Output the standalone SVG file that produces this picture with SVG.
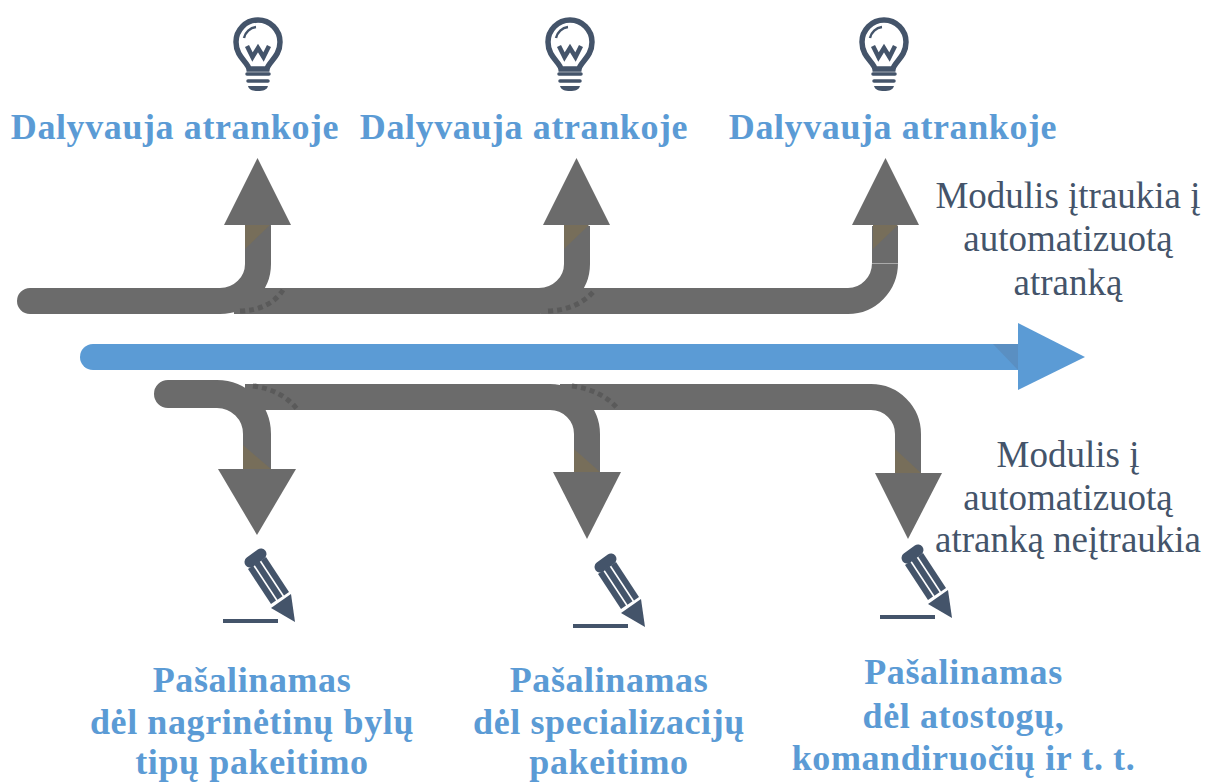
<svg xmlns="http://www.w3.org/2000/svg" xmlns:xlink="http://www.w3.org/1999/xlink" width="1208" height="782" viewBox="0 0 1208 782">
<style>
.g{fill:#6b6b6b}
.gl{fill:none;stroke:#6b6b6b;stroke-width:26}
.tan{fill:#776e5a}
.d{fill:none;stroke:#5a5a5a;stroke-width:5;stroke-dasharray:5 4}
.b{font:bold 36px "Liberation Serif",serif;fill:#5b9bd5;text-anchor:middle;letter-spacing:.6px}
.t{font:37px "Liberation Serif",serif;fill:#44546a;text-anchor:middle}
</style>
<defs>
<g id="bulb">
<path d="M-9 27C-10 20-22 15-22 0A22 22 0 1 1 22 0C22 15 10 20 9 27Z" fill="none" stroke="#44546a" stroke-width="5.500"/>
<path d="M-14 -4A14 14 0 0 1 -2 -15" fill="none" stroke="#44546a" stroke-width="2.500"/>
<path d="M-11 4L-5.500 15L0 6L5.500 15L11 4" fill="none" stroke="#44546a" stroke-width="4.500"/>
<path d="M-11 32H11M-10 39H10" fill="none" stroke="#44546a" stroke-width="3.500" stroke-linecap="round"/>
<path d="M-10 44H10C9 48 5 49 0 49C-5 49-9 48-10 44Z" fill="#44546a"/>
</g>
<g id="pencil" fill="#44546a">
<path d="M-24 -36L-13 -44" stroke="#44546a" stroke-width="11" stroke-linecap="round" transform="translate(0,-3)"/>
<path d="M-26 -32L-21 -35.400L2 -0.400L-3 3Z"/>
<path d="M-19.500 -36.300L-14.500 -39.700L8.500 -4.700L3.500 -1.300Z"/>
<path d="M-13 -40.600L-8 -44L15 -9L10 -5.600Z"/>
<path d="M-3 7L17 -7L21 21Z"/>
<rect x="-51" y="18" width="55" height="4"/>
</g>
</defs>
<g id="connectors">
<g id="upper">
<path class="gl" d="M30 301H220A38 37 0 0 0 258 264V226" stroke-linecap="round"/>
<path class="gl" d="M234 301H539A38 37 0 0 0 577 264V226"/>
<path class="gl" d="M541 301H848A37 38 0 0 0 885 263V226"/>
<path class="d" d="M240 311Q270 310 283 290"/>
<path class="d" d="M548 311Q578 310 595 290"/>
<path class="g" d="M224 225L257.500 158L291 225Z"/>
<path class="g" d="M543 225L576.500 158L610 225Z"/>
<path class="g" d="M852 225L885.500 158L919 225Z"/>
<path class="tan" d="M245 225H270L245 249Z"/>
<path class="tan" d="M564 225H589L564 249Z"/>
<path class="tan" d="M873 225H898L873 249Z"/>
<path d="M872 263.500H898" stroke="#aaa" stroke-width="1"/>
</g>
<g id="main">
<path d="M93 357H1019" stroke="#5b9bd5" stroke-width="26" stroke-linecap="round"/>
<path d="M1018 323L1085 357L1018 390Z" fill="#5b9bd5"/>
<path d="M993 344H1018V370Z" fill="#5a8fc2"/>
</g>
<g id="lower">
<path class="gl" d="M168 394H217A40 40 0 0 1 257 434V470" stroke-linecap="round" style="stroke-width:28"/>
<path class="gl" d="M245 397H550A37 37 0 0 1 587 434V472"/>
<path class="gl" d="M560 397H871A37 37 0 0 1 908 434V473"/>
<path class="d" d="M253 386Q282 390 297 409"/>
<path class="d" d="M572 386Q602 390 618 409"/>
<path class="g" d="M218 469H296L257 535Z"/>
<path class="g" d="M553 472H621L587 539Z"/>
<path class="g" d="M875 473H942L908 539Z"/>
<path class="tan" d="M243 445L271 469H243Z"/>
<path class="tan" d="M574 449L600 472H574Z"/>
<path class="tan" d="M895 449L921 473H895Z"/>
</g>
</g>
<g id="n1"><use xlink:href="#bulb" x="258" y="42"/><text class="b" x="175" y="139">Dalyvauja atrankoje</text></g>
<g id="n2"><use xlink:href="#bulb" x="570" y="42"/><text class="b" x="524" y="139">Dalyvauja atrankoje</text></g>
<g id="n3"><use xlink:href="#bulb" x="884" y="42"/><text class="b" x="893" y="139">Dalyvauja atrankoje</text></g>
<g id="n4"><text class="t"><tspan x="1068" y="207.500">Modulis įtraukia į</tspan><tspan x="1068" y="251">automatizuotą</tspan><tspan x="1068" y="295">atranką</tspan></text></g>
<g id="n5"><text class="t"><tspan x="1068" y="466.500">Modulis į</tspan><tspan x="1068" y="510">automatizuotą</tspan><tspan x="1068" y="552">atranką neįtraukia</tspan></text></g>
<g id="n6"><use xlink:href="#pencil" x="274" y="601"/><text class="b"><tspan x="252" y="692">Pašalinamas</tspan><tspan x="252" y="734">dėl nagrinėtinų bylų</tspan><tspan x="252" y="774">tipų pakeitimo</tspan></text></g>
<g id="n7"><use xlink:href="#pencil" x="624" y="606"/><text class="b"><tspan x="609" y="692">Pašalinamas</tspan><tspan x="609" y="734">dėl specializacijų</tspan><tspan x="609" y="774">pakeitimo</tspan></text></g>
<g id="n8"><use xlink:href="#pencil" x="931" y="597"/><text class="b"><tspan x="963.500" y="684">Pašalinamas</tspan><tspan x="963.500" y="728">dėl atostogų,</tspan><tspan x="963.500" y="770">komandiruočių ir t. t.</tspan></text></g>
</svg>
